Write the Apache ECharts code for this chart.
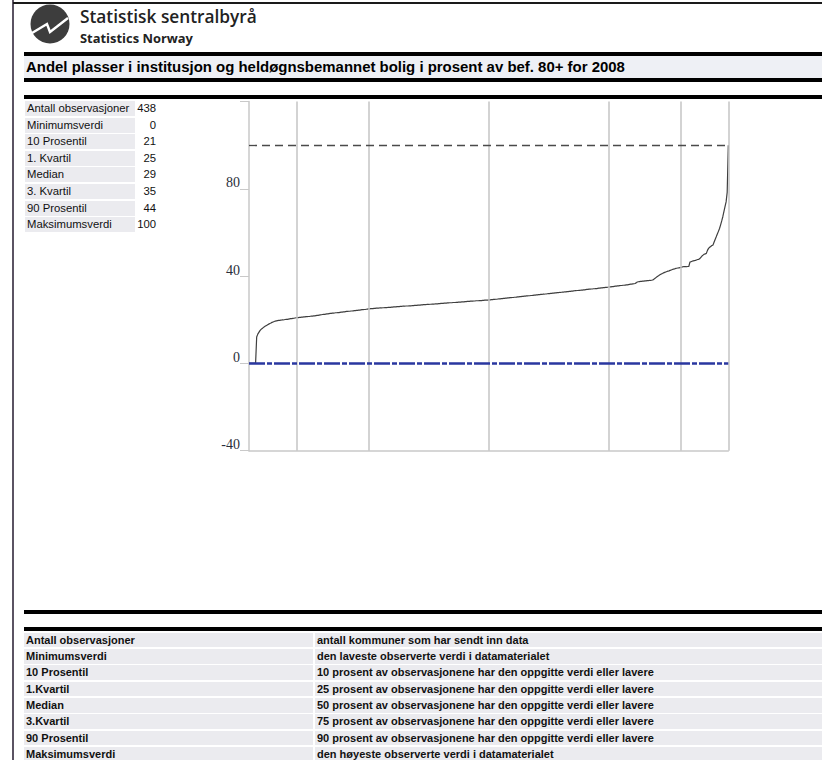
<!DOCTYPE html>
<html>
<head>
<meta charset="utf-8">
<script src="https://cdn.jsdelivr.net/npm/echarts@6/dist/echarts.min.js"></script>
<style>
  html, body { margin: 0; padding: 0; background: #fff; }
  body { width: 822px; height: 760px; position: relative; overflow: hidden; font-family: "Liberation Sans", Arial, sans-serif; }
  .abs { position: absolute; }
  .rule { position: absolute; left: 24px; right: 0; background: #000; }
  .srow { position: absolute; left: 25px; height: 15px; font-size: 11.3px; line-height: 15px; color: #111; white-space: nowrap; }
  .srow .lbl { position: absolute; left: 0; top: 0; width: 108px; height: 15px; background: #ebebef; padding-left: 2px; }
  .srow .val { position: absolute; left: 110px; top: 0; width: 21px; text-align: right; }
  .drow { position: absolute; left: 24px; width: 798px; height: 14.8px; font-size: 11px; font-weight: bold; line-height: 14.8px; color: #111; white-space: nowrap; }
  .drow .k { position: absolute; left: 0; top: 0; width: 287px; height: 100%; background: #ebebef; padding-left: 2px; }
  .drow .t { position: absolute; left: 291px; top: 0; right: 0; height: 100%; background: #ebebef; padding-left: 2px; }
  #chart { position: absolute; left: 0; top: 0; width: 822px; height: 760px; }
</style>
</head>
<body>
<div class="abs" style="left:12px;top:0;width:2px;height:760px;background:#5b5363"></div>
<div class="abs" style="left:13px;top:2px;right:0;height:1.5px;background:#1a1a1a"></div>

<svg class="abs" style="left:29px;top:3px" width="42" height="42" viewBox="0 0 42 42">
  <circle cx="21" cy="21" r="19.5" fill="#3d3d3d"/>
  <polyline points="3,30 18,21 21,29 39,15" fill="none" stroke="#fff" stroke-width="2.4" stroke-linejoin="miter"/>
</svg>
<div id="logo1" class="abs" style="left:80px;top:8px;font-family:'Open Sans',sans-serif;font-weight:600;font-size:19px;line-height:1;color:#222;white-space:nowrap">Statistisk sentralbyrå</div>
<div id="logo2" class="abs" style="left:80px;top:32px;font-family:'Open Sans',sans-serif;font-weight:700;font-size:12.5px;line-height:1;color:#222;white-space:nowrap">Statistics Norway</div>

<div class="rule" style="top:52px;height:4px"></div>
<div class="abs" style="left:24px;right:0;top:56px;height:22px;background:#eef0f5"></div>
<div id="title" class="abs" style="left:26px;top:58px;font-weight:bold;font-size:14px;line-height:18px;color:#000;white-space:nowrap">Andel plasser i institusjon og heldøgnsbemannet bolig i prosent av bef. 80+ for 2008</div>
<div class="rule" style="top:78px;height:4px"></div>
<div class="rule" style="top:95px;height:4px"></div>

<div id="stats"></div>

<div class="rule" style="top:610px;height:4px"></div>
<div class="rule" style="top:627px;height:3.5px"></div>
<div id="desc"></div>

<div id="chart"></div>

<script>
// Summary statistics shown in the upper table
const statLabels = ["Antall observasjoner", "Minimumsverdi", "10 Prosentil", "1. Kvartil", "Median", "3. Kvartil", "90 Prosentil", "Maksimumsverdi"];
const statValues = [438, 0, 21, 25, 29, 35, 44, 100];

// Explanations in the lower table
const descLabels = ["Antall observasjoner", "Minimumsverdi", "10 Prosentil", "1.Kvartil", "Median", "3.Kvartil", "90 Prosentil", "Maksimumsverdi"];
const descTexts = [
  "antall kommuner som har sendt inn data",
  "den laveste observerte verdi i datamaterialet",
  "10 prosent av observasjonene har den oppgitte verdi eller lavere",
  "25 prosent av observasjonene har den oppgitte verdi eller lavere",
  "50 prosent av observasjonene har den oppgitte verdi eller lavere",
  "75 prosent av observasjonene har den oppgitte verdi eller lavere",
  "90 prosent av observasjonene har den oppgitte verdi eller lavere",
  "den høyeste observerte verdi i datamaterialet"
];

// Percentiles marked with vertical lines
const percentileMarks = [10, 25, 50, 75, 90, 100];

// Y-axis range and tick step
const yMin = -40, yMax = 120, yStep = 40;

// Municipal values, sorted ascending (percent)
const sortedValues = [
  0, 0, 0, 0, 0, 0, 0,
  12.1, 13.4, 14.2, 15.0, 15.6, 16.0, 16.4, 16.8, 17.1, 17.4, 17.7, 18.0, 18.3, 18.5, 18.8, 19.0, 19.2, 19.4, 19.5,
  19.6, 19.7, 19.7, 19.8, 19.9, 19.9, 20.0, 20.1, 20.2, 20.2, 20.3, 20.4, 20.5, 20.5, 20.6, 20.7, 20.8, 20.9,
  21.0,
  21.0, 21.1, 21.1, 21.2, 21.2, 21.3, 21.3, 21.4, 21.4, 21.5, 21.5, 21.6, 21.7, 21.7, 21.8, 21.8, 21.9, 22.0, 22.0, 22.1, 22.2, 22.3,
  22.4,
  22.5, 22.5, 22.6, 22.7, 22.7, 22.8, 22.9, 22.9, 23.0, 23.0,
  23.1, 23.2, 23.2, 23.3, 23.3, 23.4, 23.5, 23.5, 23.6, 23.6,
  23.7, 23.8, 23.8, 23.9, 23.9, 24.0, 24.0, 24.1, 24.2, 24.2,
  24.3, 24.3, 24.4, 24.4, 24.5, 24.6, 24.6, 24.7, 24.7, 24.8,
  24.9, 25.0,
  25.0, 25.1, 25.1, 25.1, 25.2, 25.2, 25.3, 25.3, 25.3, 25.4,
  25.4, 25.4, 25.5, 25.5, 25.6, 25.6, 25.6, 25.7, 25.7, 25.7,
  25.8, 25.8, 25.9, 25.9, 25.9, 26.0, 26.0, 26.0, 26.1, 26.1,
  26.2, 26.2, 26.2, 26.3, 26.3, 26.3, 26.4, 26.4, 26.4, 26.5,
  26.5, 26.6, 26.6, 26.6, 26.7, 26.7, 26.7, 26.8, 26.8, 26.9,
  26.9, 26.9, 27.0, 27.0, 27.0, 27.1, 27.1, 27.2, 27.2, 27.2,
  27.3, 27.3, 27.3, 27.4, 27.4, 27.5, 27.5, 27.5, 27.6, 27.6,
  27.6, 27.7, 27.7, 27.8, 27.8, 27.8, 27.9, 27.9, 27.9, 28.0,
  28.0, 28.1, 28.1, 28.1, 28.2, 28.2, 28.2, 28.3, 28.3, 28.4,
  28.4, 28.4, 28.5, 28.5, 28.5, 28.6, 28.6, 28.7, 28.7, 28.7,
  28.8, 28.8, 28.8, 28.9, 28.9, 29.0, 29.0, 29.0, 29.0, 29.1,
  29.1, 29.2, 29.2, 29.3, 29.3, 29.4, 29.4, 29.5, 29.6, 29.6,
  29.7, 29.7, 29.8, 29.8, 29.9, 29.9, 30.0, 30.0, 30.1, 30.1,
  30.2, 30.2, 30.3, 30.3, 30.4, 30.5, 30.5, 30.6, 30.6, 30.7,
  30.7, 30.8, 30.8, 30.9, 30.9, 31.0, 31.0, 31.1, 31.1, 31.2,
  31.3, 31.3, 31.4, 31.4, 31.5, 31.5, 31.6, 31.6, 31.7, 31.7,
  31.8, 31.8, 31.9, 32.0, 32.0, 32.1, 32.1, 32.2, 32.2, 32.3,
  32.3, 32.4, 32.4, 32.5, 32.5, 32.6, 32.7, 32.7, 32.8, 32.8,
  32.9, 32.9, 33.0, 33.0, 33.1, 33.1, 33.2, 33.3, 33.3, 33.4,
  33.4, 33.5, 33.5, 33.6, 33.6, 33.7, 33.7, 33.8, 33.9, 33.9,
  34.0, 34.0, 34.1, 34.1, 34.2, 34.2, 34.3, 34.3, 34.4, 34.5,
  34.5, 34.6, 34.6, 34.7, 34.7, 34.8, 34.8, 34.9, 35.0,
  35.1, 35.1, 35.2, 35.2, 35.3, 35.4, 35.4, 35.5, 35.5, 35.6,
  35.7, 35.7, 35.8, 35.8, 35.9, 36.0, 36.0, 36.1, 36.2, 36.3,
  36.3, 36.4, 36.5, 36.6, 36.9, 37.3,
  37.4, 37.5, 37.6, 37.6, 37.7, 37.7, 37.8, 37.8, 37.9, 37.9, 38.0, 38.0, 38.1, 38.2,
  38.5, 38.9, 39.3, 39.7, 40.0, 40.4,
  40.7, 41.0, 41.2, 41.5, 41.7, 41.9, 42.1, 42.3, 42.4,
  42.6, 42.8, 43.0, 43.2, 43.3, 43.5,
  43.6, 43.7, 43.8, 43.9, 44.0, 44.2, 44.3, 44.3, 44.3, 44.3, 44.4, 44.4,
  46.4, 46.6, 46.8, 47.0, 47.1, 47.2, 47.4, 47.6,
  47.7, 48.0, 48.6, 49.2,
  49.6, 50.0, 50.2, 50.4, 51.8, 52.7, 53.2, 53.6, 54.0, 54.2,
  55.5, 56.8, 58.0, 59.3, 60.5, 61.8, 63.5, 65.3, 67.2, 69.5,
  71.8, 74.0, 78.5, 100
];

// Upper statistics table: one row every 16.55 px
const stats = document.getElementById('stats');
statLabels.forEach((l, i) => {
  const row = document.createElement('div');
  row.className = 'srow';
  row.style.top = (101.2 + 16.55 * i).toFixed(2) + 'px';
  const a = document.createElement('div'); a.className = 'lbl'; a.textContent = l;
  const b = document.createElement('div'); b.className = 'val'; b.textContent = statValues[i];
  row.append(a, b);
  stats.appendChild(row);
});

// Lower explanation table
const desc = document.getElementById('desc');
descLabels.forEach((l, i) => {
  const row = document.createElement('div');
  row.className = 'drow';
  row.style.top = (632.5 + 16.35 * i).toFixed(2) + 'px';
  const a = document.createElement('div'); a.className = 'k'; a.textContent = l;
  const b = document.createElement('div'); b.className = 't'; b.textContent = descTexts[i];
  row.append(a, b);
  desc.appendChild(row);
});

// Scale a text line so it spans the given width
function fitWidth(id, target) {
  const el = document.getElementById(id);
  const w = el.getBoundingClientRect().width;
  const fs = parseFloat(getComputedStyle(el).fontSize);
  el.style.fontSize = (fs * target / w).toFixed(2) + 'px';
}
fitWidth('logo1', 177);
fitWidth('logo2', 113);
fitWidth('title', 599);

const n = sortedValues.length;
const points = sortedValues.map((v, i) => [i, v]);
const minVal = statValues[1], maxVal = statValues[7];

const chart = echarts.init(document.getElementById('chart'), null, { renderer: 'svg' });
chart.setOption({
  animation: false,
  backgroundColor: 'transparent',
  grid: { left: 249, top: 101.5, width: 479.3, height: 349.2, containLabel: false },
  xAxis: {
    type: 'value', min: 0, max: n - 1,
    axisLine: { show: true, onZero: false, lineStyle: { color: '#c9c9c9', width: 1.5 } },
    axisTick: { show: false }, axisLabel: { show: false }, splitLine: { show: false }
  },
  yAxis: {
    type: 'value', min: yMin, max: yMax, interval: yStep,
    axisLine: { show: true, lineStyle: { color: '#c9c9c9', width: 1.5 } },
    axisTick: { show: true, length: 9, lineStyle: { color: '#c9c9c9', width: 1 } },
    axisLabel: {
      formatter: v => (v === yMax ? '' : String(v)),
      fontFamily: 'Liberation Serif', fontSize: 14, color: '#2a2e3a',
      verticalAlign: 'bottom', lineHeight: 12, margin: 9
    },
    splitLine: { show: false }
  },
  series: [
    {
      // vertical percentile lines
      type: 'line', data: [], silent: true, z: 1,
      markLine: {
        silent: true, symbol: 'none', label: { show: false },
        lineStyle: { color: '#c4c4c4', width: 1.5, type: 'solid' },
        data: percentileMarks.map(p => ({ xAxis: p / 100 * (n - 1) }))
      }
    },
    {
      // maximum value reference
      type: 'line', data: [], silent: true, z: 2,
      markLine: {
        silent: true, symbol: 'none', label: { show: false },
        lineStyle: { color: '#4a4a4a', width: 1.3, type: [8, 5] },
        data: [{ yAxis: maxVal }]
      }
    },
    {
      type: 'line', data: points, showSymbol: false, z: 3,
      lineStyle: { color: '#3f3f3f', width: 1.2 }
    },
    {
      // minimum value reference
      type: 'line', data: [], silent: true, z: 4,
      markLine: {
        silent: true, symbol: 'none', label: { show: false },
        lineStyle: { color: '#2a37a0', width: 2.6, type: [16, 2, 5, 2] },
        data: [{ yAxis: minVal }]
      }
    }
  ]
});
</script>
</body>
</html>
